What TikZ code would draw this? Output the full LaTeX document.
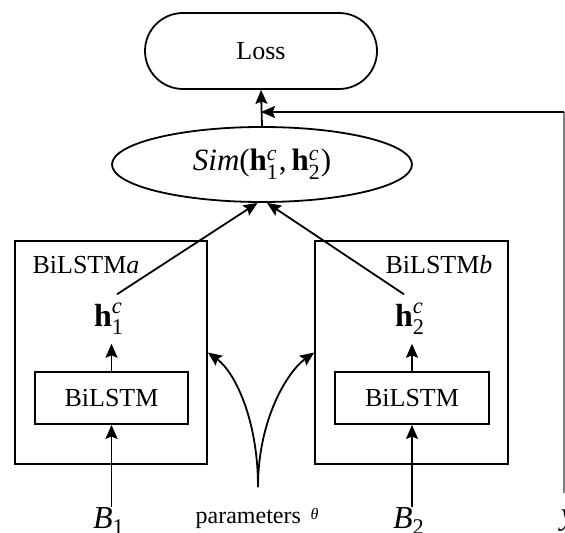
\documentclass[tikz,border=0pt]{standalone}
\usepackage{amsmath}
\usepackage{fontspec}
\setmainfont{Liberation Serif}
\usetikzlibrary{arrows.meta,shapes.geometric,positioning,calc}

\newcommand{\hvec}[1]{\textbf{h}$^{\textit{c}}_{\text{#1}}$}

\begin{document}
\begin{tikzpicture}[x=0.5pt,y=-0.5pt,line width=0.9pt,
  arr/.style={-{Stealth[length=7pt,width=6pt,inset=1.2pt]}},
  box/.style={draw,inner sep=0pt},
  txt/.style={inner sep=0pt,font=\fontsize{13}{15}\selectfont}]
\useasboundingbox (0,0) rectangle (565,533);

\node[box,txt,rounded corners=19pt,minimum width=116pt,minimum height=38pt] (loss) at (261,51) {Loss};
\node[draw,ellipse,inner sep=0pt,minimum width=150pt,minimum height=37.5pt,font=\fontsize{15.5}{17}\selectfont] (sim) at (262,164.5) {\textit{Sim}(\hvec{1},\,\hvec{2})};

% the two siamese branches
\node[box,minimum width=96pt,minimum height=111.5pt] (bilstma) at (111,352.5) {};
\node[box,minimum width=96.5pt,minimum height=111.5pt] (bilstmb) at (411.5,352.5) {};
\node[txt] (laba) at (86,265) {BiLSTM\textit{a}};
\node[txt] (labb) at (439,265) {BiLSTM\textit{b}};
\node[box,txt,minimum width=76.5pt,minimum height=26pt] (lstma) at (111.5,398) {BiLSTM};
\node[box,txt,minimum width=77pt,minimum height=26pt] (lstmb) at (412,398) {BiLSTM};
\node[txt,font=\fontsize{16}{18}\selectfont,inner ysep=4pt] (h1) at (109,319) {\hvec{1}};
\node[txt,font=\fontsize{16}{18}\selectfont,inner ysep=4pt] (h2) at (410,319) {\hvec{2}};

% inputs
\node[txt,font=\fontsize{16}{18}\selectfont] (B1) at (109,521) {\textit{B}\textsubscript{1}};
\node[txt,font=\fontsize{16}{18}\selectfont] (B2) at (409,521) {\textit{B}\textsubscript{2}};
\node[txt,font=\fontsize{12}{14}\selectfont] (par) at (257,518) {parameters\hspace{0.4em}\raisebox{2pt}{\footnotesize\textit{θ}}};
\node[txt,font=\fontsize{16}{18}\selectfont] (ylab) at (568,521) {\textit{y}};
\coordinate (pstart) at (258,487);
\coordinate (ytop) at (564,112);
\coordinate (ybot) at (564,493);

\draw[arr] (B1.north -| lstma) -- (lstma.south);
\draw[arr] (B2.north -| lstmb) -- (lstmb.south);
\draw[arr] (lstma.north) -- (lstma.north |- h1.south);
\draw[arr] (lstmb.north) -- (lstmb.north |- h2.south);
\draw[arr] ([xshift=4pt]h1.north) -- ([xshift=-2.25pt]sim.south);
\draw[arr] ([xshift=-3pt]h2.north) -- ([xshift=2.5pt]sim.south);
\draw[arr] (sim.north) -- (loss.south);
\draw[arr] (pstart) .. controls (258,420) and (235,372) .. (bilstma.east);
\draw[arr] (pstart) .. controls (258,420) and (287,372) .. (bilstmb.west);
\draw[gray,line width=0.6pt] (ybot) -- (ytop);
\draw[arr] (ytop) -- (loss.south |- ytop);
\end{tikzpicture}
\end{document}
